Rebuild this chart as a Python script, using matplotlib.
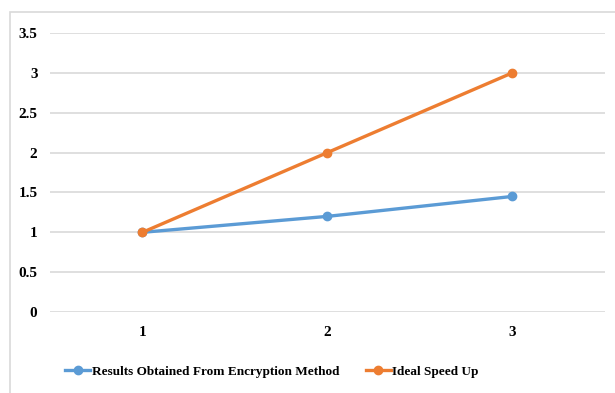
import matplotlib.pyplot as plt
from matplotlib.patches import Rectangle

x_labels = ['1', '2', '3']
encryption = [1.0, 1.2, 1.45]
ideal = [1.0, 2.0, 3.0]

plt.rcParams['font.family'] = 'Liberation Serif'
plt.rcParams['font.weight'] = 'bold'

fig = plt.figure(figsize=(6.15, 3.93), dpi=100)
ax = fig.add_axes([0.0813, 0.206, 0.902, 0.710])

# outer chart border
fig.patches.append(Rectangle((10 / 615, -0.05), 1.1, (393 - 12) / 393 + 0.05,
                             transform=fig.transFigure, fill=False,
                             edgecolor='#d9d9d9', linewidth=1.2))

xs = range(len(x_labels))
ax.plot(xs, encryption, color='#5B9BD5', linewidth=2.4, marker='o', markersize=6,
        label='Results Obtained From Encryption Method', zorder=3)
ax.plot(xs, ideal, color='#ED7D31', linewidth=2.4, marker='o', markersize=6,
        label='Ideal Speed Up', zorder=3)

ax.set_xlim(-0.5, 2.5)
ax.set_ylim(0, 3.5)
ax.set_yticks([0, 0.5, 1, 1.5, 2, 2.5, 3, 3.5])
ax.set_yticklabels(['0', '0.5', '1', '1.5', '2', '2.5', '3', '3.5'])
ax.set_xticks(list(xs))
ax.set_xticklabels(x_labels)
ax.grid(axis='y', color='#d9d9d9', linewidth=1.2)
ax.set_axisbelow(True)
for s in ax.spines.values():
    s.set_visible(False)
ax.tick_params(length=0, labelsize=11, pad=9)
ax.tick_params(axis='x', pad=10)

ax.legend(loc='upper center', bbox_to_anchor=(0.40, -0.15), ncol=2, frameon=False,
          fontsize=9.5, handlelength=1.9, handletextpad=0.1, columnspacing=2)

fig.savefig('out.png', dpi=100)
